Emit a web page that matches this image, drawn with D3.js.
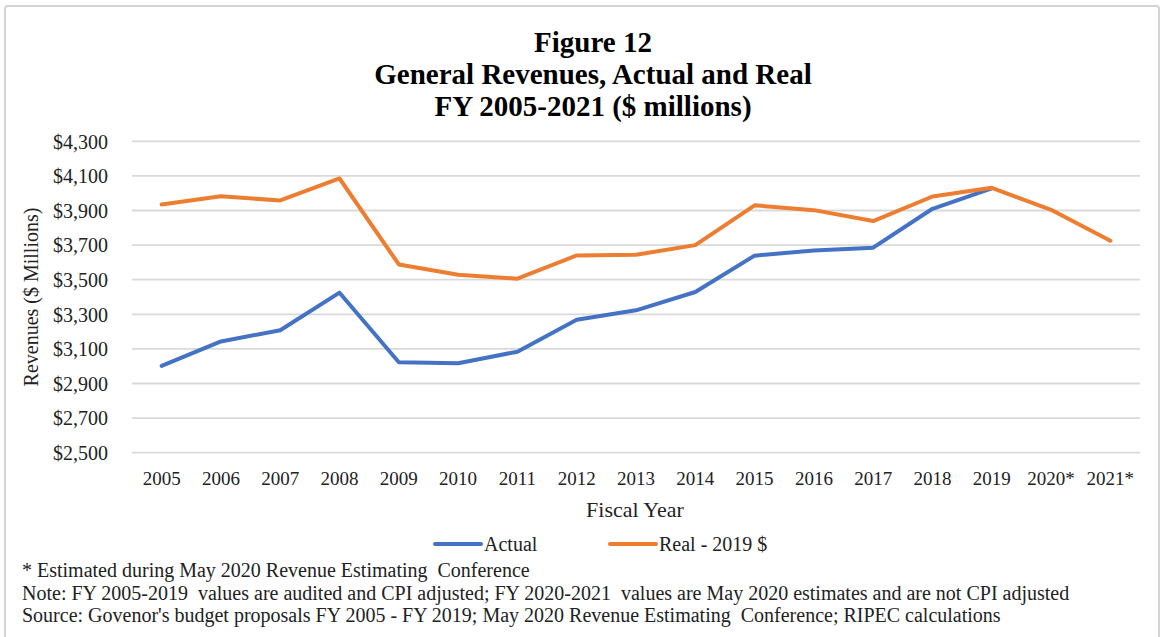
<!DOCTYPE html>
<html>
<head>
<meta charset="utf-8">
<script src="https://cdn.jsdelivr.net/npm/d3@7"></script>
<style>
  html, body { margin: 0; padding: 0; background: #fff; }
  svg { display: block; font-family: "Liberation Serif", "Times New Roman", serif; }
</style>
</head>
<body>
<svg id="chart" width="1165" height="637"></svg>
<script>
// Fiscal years and revenue series ($ millions)
const years = ["2005","2006","2007","2008","2009","2010","2011","2012","2013","2014","2015","2016","2017","2018","2019","2020*","2021*"];
const actual = [3002, 3143, 3208, 3425, 3023, 3017, 3084, 3269, 3323, 3429, 3639, 3669, 3685, 3910, 4028, null, null];
const real = [3935, 3982, 3958, 4085, 3588, 3529, 3506, 3640, 3644, 3700, 3930, 3902, 3839, 3981, 4031, 3904, 3725];
const yTicks = [2500, 2700, 2900, 3100, 3300, 3500, 3700, 3900, 4100, 4300];

const titleLines = ["Figure 12", "General Revenues, Actual and Real", "FY 2005-2021 ($ millions)"];
const notes = [
  "* Estimated during May 2020 Revenue Estimating  Conference",
  "Note: FY 2005-2019  values are audited and CPI adjusted; FY 2020-2021  values are May 2020 estimates and are not CPI adjusted",
  "Source: Govenor's budget proposals FY 2005 - FY 2019; May 2020 Revenue Estimating  Conference; RIPEC calculations"
];
const seriesNames = ["Actual", "Real - 2019 $"];
const colors = ["#4472C4", "#ED7D31"];

const svg = d3.select("#chart");

// outer frame
svg.append("rect")
  .attr("x", 5).attr("y", 6)
  .attr("width", 1154).attr("height", 700)
  .attr("rx", 3)
  .attr("fill", "none")
  .attr("stroke", "#d4d4d4")
  .attr("stroke-width", 2);

// title
svg.append("g").selectAll("text")
  .data(titleLines).join("text")
  .attr("x", 593)
  .attr("y", (d, i) => 52 + i * 32)
  .attr("text-anchor", "middle")
  .attr("font-size", 29)
  .attr("font-weight", "bold")
  .attr("fill", "#000")
  .text(d => d);

const x = d3.scaleBand().domain(years).range([132, 1140]);
const y = d3.scaleLinear().domain([2500, 4300]).range([452.7, 141.3]);

// horizontal gridlines
svg.append("g").selectAll("line")
  .data(yTicks).join("line")
  .attr("x1", 132).attr("x2", 1140)
  .attr("y1", d => y(d)).attr("y2", d => y(d))
  .attr("stroke", "#d9d9d9")
  .attr("stroke-width", 1.8);

// y axis labels
const yAxis = d3.axisLeft(y).tickValues(yTicks).tickSize(0).tickPadding(0)
  .tickFormat(d => "$" + d3.format(",")(d));
const gy = svg.append("g").attr("transform", "translate(108,0)").call(yAxis);
gy.select(".domain").remove();
gy.selectAll("text").attr("font-size", 20).attr("font-family", "Liberation Serif").attr("fill", "#222").attr("dy", "0.34em");

// x axis labels
const xAxis = d3.axisBottom(x).tickSize(0).tickPadding(0);
const gx = svg.append("g").attr("transform", "translate(0,471)").call(xAxis);
gx.select(".domain").remove();
gx.selectAll("text").attr("font-size", 19).attr("font-family", "Liberation Serif").attr("fill", "#222").attr("dy", "0.71em");

// axis titles
svg.append("text")
  .attr("transform", "translate(38,297) rotate(-90)")
  .attr("text-anchor", "middle")
  .attr("font-size", 20)
  .attr("fill", "#222")
  .text("Revenues ($ Millions)");

svg.append("text")
  .attr("x", 635).attr("y", 517)
  .attr("text-anchor", "middle")
  .attr("font-size", 22)
  .attr("fill", "#222")
  .text("Fiscal Year");

// series lines
const line = d3.line()
  .defined(d => d.v != null)
  .x(d => x(d.k) + x.bandwidth() / 2)
  .y(d => y(d.v));

[actual, real].forEach((vals, i) => {
  svg.append("path")
    .datum(years.map((k, j) => ({ k, v: vals[j] })))
    .attr("fill", "none")
    .attr("stroke", colors[i])
    .attr("stroke-width", 4)
    .attr("stroke-linejoin", "round")
    .attr("stroke-linecap", "round")
    .attr("d", line);
});

// legend
const legendX = [435, 610];
const lg = svg.append("g");
seriesNames.forEach((name, i) => {
  lg.append("line")
    .attr("x1", legendX[i]).attr("x2", legendX[i] + 46)
    .attr("y1", 544).attr("y2", 544)
    .attr("stroke", colors[i]).attr("stroke-width", 4)
    .attr("stroke-linecap", "round");
  lg.append("text")
    .attr("x", legendX[i] + 49).attr("y", 551)
    .attr("font-size", 20).attr("fill", "#222")
    .text(name);
});

// footnotes
svg.append("g").selectAll("text")
  .data(notes).join("text")
  .attr("x", 22)
  .attr("y", (d, i) => 577 + i * 22.5)
  .attr("font-size", 20)
  .attr("fill", "#222")
  .style("white-space", "pre")
  .text(d => d);
</script>
</body>
</html>
